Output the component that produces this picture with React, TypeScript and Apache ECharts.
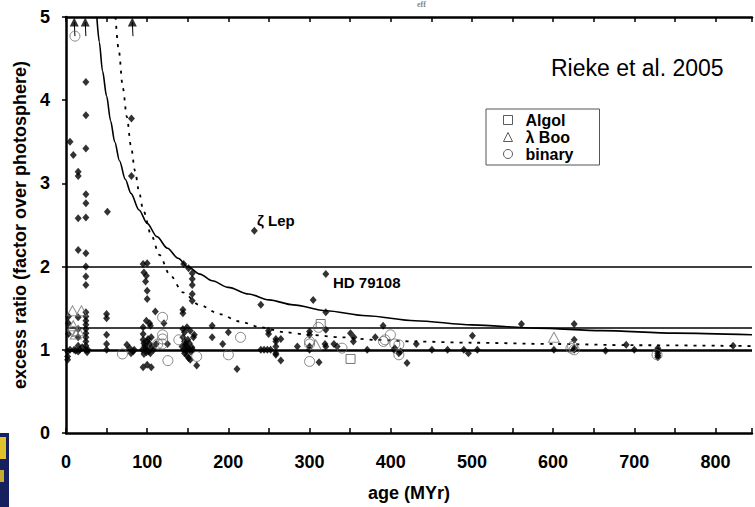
import React, { useEffect, useRef } from "react";
import * as echarts from "echarts";

// ---- data ----
const xTickStep = 50;
const xMax = 845;
const yMax = 5;
const refLevels = [1, 1.27, 2];

const diamonds: [number, number][] = [
  [5, 3.5], [9, 3.34], [15, 3.14], [15, 3.09], [24.5, 4.22], [24.5, 3.82], [24.5, 3.42], [24.5, 2.87],
  [24.5, 2.76], [15, 2.58], [24.5, 2.59], [51, 2.66], [80.6, 3.78], [80.6, 3.09], [232, 2.43],
  [15, 2.2], [24.5, 2.16], [24.5, 2.0], [24.5, 1.88], [24.5, 1.78],
  [24.5, 1.45], [24.5, 1.4], [24.5, 1.35], [24.5, 1.3], [24.5, 1.25], [24.5, 1.2], [24.5, 1.15],
  [24.5, 1.1], [24.5, 1.05], [24.5, 1.0], [26, 0.97],
  [15, 1.39], [15, 1.25], [15, 1.15], [15, 1.05], [15, 0.98], [17, 1.0], [20, 1.03], [12, 0.99], [10, 1.0], [27, 1.0],
  [3, 1.4], [3, 1.32], [3, 1.19], [2, 0.98], [2, 0.92], [2, 0.88], [5, 1.0],
  [50, 1.43], [50, 1.38], [50, 1.18], [50, 1.07], [50, 1.0],
  [75, 1.06], [78.5, 1.02], [80, 0.96], [82.6, 0.98], [84, 1.0],
  [95, 2.03], [100, 2.04], [96, 1.93], [99, 1.89], [98, 1.82], [100, 1.71], [100, 1.61], [99, 1.35],
  [103, 1.32], [104, 1.29], [95, 1.27], [95, 1.19], [95, 1.12], [96, 1.08], [97, 1.05], [98, 1.02],
  [100, 1.0], [102, 0.98], [104, 0.96], [96, 0.95], [100, 1.1], [103, 1.07], [106, 1.03], [94, 1.0],
  [99, 0.97], [101, 1.13], [105, 1.15], [95, 0.79], [100, 0.82], [105, 0.79], [108, 1.0], [110, 1.46],
  [111, 1.07], [120.6, 1.32], [125, 1.07],
  [144, 1.48], [144, 1.44], [144, 1.25], [149, 1.27], [145, 2.03], [151, 1.98], [155.5, 1.92],
  [155.5, 1.85], [155.5, 1.78], [155.5, 1.67], [155.5, 1.59], [146, 1.21], [153, 1.23], [144, 1.15],
  [146, 1.1], [148, 1.05], [150, 1.02], [152, 1.0], [154, 0.98], [146, 0.96], [149, 0.93], [151, 0.9],
  [153, 0.88], [145, 1.0], [147, 1.07], [150, 1.12], [152, 1.08], [155, 1.03], [143, 1.04], [148, 0.99],
  [156, 1.0], [161, 0.81], [158, 1.18], [157, 1.15],
  [180, 1.29], [180, 1.15], [193, 1.07], [200, 1.21], [210.6, 0.77], [240, 1.54],
  [240, 1.0], [244, 1.0], [248, 1.0], [252, 1.0], [249.5, 1.23], [249.5, 1.19], [258.5, 1.13],
  [258.5, 1.1], [258.5, 1.04], [258.5, 0.96], [258.5, 0.94], [264.6, 0.87], [264.6, 1.13], [285, 1.04],
  [300, 1.22], [300, 1.18], [300, 1.04], [300, 1.0], [304.5, 1.6], [311.7, 0.85], [320, 1.91],
  [320, 1.45], [320, 1.24], [320, 1.04], [319, 1.07], [330, 1.07], [334, 1.04], [350.5, 1.2],
  [354.6, 1.15], [354, 1.1], [371, 1.0], [381, 1.15], [390.6, 1.29], [404, 1.0], [405, 1.02],
  [410, 0.96], [412, 0.98], [420, 0.84], [431.5, 1.07], [450.7, 1.0], [470, 1.0], [490, 1.0],
  [495.7, 0.96], [500.6, 1.17], [506.7, 1.0], [561, 1.31], [601, 1.0], [626, 1.31], [626, 1.12],
  [626, 1.02], [626, 1.0], [664.6, 0.99], [690, 1.06], [700, 1.0], [729, 1.02], [729, 0.99],
  [729, 0.96], [729, 0.93], [729, 0.91], [821.7, 1.05],
];

const binary: [number, number][] = [
  [11, 4.77], [9, 1.22], [69.5, 0.95], [119, 1.39], [119, 1.18], [119, 1.13], [113, 1.07], [118.6, 1.07],
  [125.5, 0.87], [139, 1.12], [161, 0.92], [200, 0.94], [215, 1.15], [300, 1.1], [300, 0.86],
  [300, 1.07], [311, 1.27], [340, 1.02], [391, 1.1], [393, 1.12], [399.6, 1.18], [405, 1.07],
  [410, 1.06], [410, 0.94], [622, 1.02], [624, 1.04], [626, 1.0], [728, 0.94],
];

const algol: [number, number][] = [[313.7, 1.31], [350.5, 0.89]];

const lambdaBoo: [number, number][] = [
  [8, 1.47], [19, 1.47], [9, 1.29], [15, 1.23], [12, 1.19], [307.6, 1.06], [601, 1.15],
];

const upperLimitAges = [11, 24.5, 82.5];
const upperLimitBase = 4.77;
const upperLimitTip = 4.94;

const solidCurve: [number, number][] = [
  [38, 5.0], [41, 4.7], [45, 4.35], [50, 4.05], [55, 3.75], [60, 3.5], [66, 3.27], [73, 3.05],
  [80, 2.88], [90, 2.68], [100, 2.52], [112, 2.36], [125, 2.22], [138, 2.1], [150, 2.0],
  [165, 1.91], [180, 1.83], [200, 1.75], [225, 1.67], [250, 1.6], [280, 1.54], [320, 1.47],
  [370, 1.41], [430, 1.35], [500, 1.3], [580, 1.26], [660, 1.23], [750, 1.2], [845, 1.18],
];

const dottedCurve: [number, number][] = [
  [61, 5.0], [65, 4.6], [70, 4.15], [75, 3.8], [80, 3.45], [85, 3.15], [90, 2.9], [95, 2.68],
  [105, 2.38], [115, 2.14], [128, 1.9], [144, 1.69], [164, 1.54], [189, 1.43],
  [214, 1.34], [240, 1.27], [270, 1.21], [300, 1.18], [340, 1.15], [380, 1.12],
  [430, 1.1], [500, 1.085], [600, 1.07], [700, 1.055], [845, 1.045],
];

const FONT = "'Liberation Sans', Arial, sans-serif";

export default function App() {
  const ref = useRef<HTMLDivElement>(null);
  useEffect(() => {
    if (!ref.current) return;
    const chart = echarts.init(ref.current, null, { renderer: "svg" });
    const stems = upperLimitAges.map((a) => ({
      type: "line",
      data: [[a, upperLimitBase], [a - 0.8, upperLimitTip]],
      showSymbol: false,
      symbol: "none",
      lineStyle: { color: "#000", width: 1 },
      silent: true,
      clip: false,
      z: 3,
    }));
    const openStyle = (c: string) => ({ color: "rgba(0,0,0,0)", borderColor: c, borderWidth: 1 });
    chart.setOption({
      animation: false,
      backgroundColor: "#fff",
      grid: { left: 66, right: 0, top: 17, bottom: 70, containLabel: false },
      legend: {
        orient: "vertical",
        left: 486,
        top: 109,
        data: ["Algol", "λ Boo", "binary"],
        borderColor: "#555",
        borderWidth: 1,
        padding: [3, 26, 3, 17],
        itemGap: 1,
        itemWidth: 9,
        itemHeight: 9,
        itemStyle: { color: "rgba(0,0,0,0)", borderColor: "#333", borderWidth: 1 },
        textStyle: { fontFamily: FONT, fontWeight: "bold", fontSize: 16, color: "#000", padding: [0, 0, 0, 8] },
      },
      xAxis: [
        {
          type: "value",
          position: "bottom",
          min: 0,
          max: xMax,
          interval: xTickStep,
          axisLine: { show: true, lineStyle: { color: "#000", width: 2.5 } },
          axisTick: { show: true, inside: true, length: 5, lineStyle: { color: "#000", width: 1.5 } },
          axisLabel: {
            formatter: (v: number) => (v % 100 === 0 ? String(v) : ""),
            margin: 20,
            color: "#000",
            fontFamily: FONT,
            fontWeight: "bold",
            fontSize: 18,
          },
          splitLine: { show: false },
          name: "age (MYr)",
          nameLocation: "middle",
          nameGap: 51,
          nameTextStyle: { color: "#000", fontFamily: FONT, fontWeight: "bold", fontSize: 18 },
        },
        {
          type: "value",
          position: "top",
          min: 0,
          max: xMax,
          interval: xTickStep,
          axisLine: { show: true, lineStyle: { color: "#000", width: 2.5 } },
          axisTick: { show: true, inside: true, length: 5, lineStyle: { color: "#000", width: 1.5 } },
          axisLabel: { show: false },
          splitLine: { show: false },
        },
      ],
      yAxis: {
        type: "value",
        min: 0,
        max: yMax,
        interval: 1,
        axisLine: { show: true, lineStyle: { color: "#000", width: 2.5 } },
        axisTick: { show: true, inside: false, length: 4, lineStyle: { color: "#000", width: 1.5 } },
        axisLabel: { margin: 16, color: "#000", fontFamily: FONT, fontWeight: "bold", fontSize: 18 },
        splitLine: { show: false },
        name: "excess ratio (factor over photosphere)",
        nameLocation: "middle",
        nameGap: 33,
        nameTextStyle: { color: "#000", fontFamily: FONT, fontWeight: "bold", fontSize: 18 },
      },
      series: [
        {
          type: "line",
          data: solidCurve,
          smooth: 0.3,
          smoothMonotone: "x",
          showSymbol: false,
          symbol: "none",
          lineStyle: { color: "#000", width: 1.6 },
          silent: true,
          z: 2,
          markLine: {
            silent: true,
            symbol: ["none", "none"],
            label: { show: false },
            data: refLevels.map((v) => ({
              yAxis: v,
              lineStyle: { color: "#000", type: "solid", width: v === 1 ? 2.6 : 1.6 },
            })),
          },
        },
        {
          type: "line",
          data: dottedCurve,
          smooth: 0.3,
          smoothMonotone: "x",
          showSymbol: false,
          symbol: "none",
          lineStyle: { color: "#000", width: 1.8, type: [3, 6] },
          silent: true,
          z: 2,
        },
        ...stems,
        {
          type: "scatter",
          data: upperLimitAges.map((a) => [a - 0.8, upperLimitTip]),
          symbol: "triangle",
          symbolSize: [9, 9],
          itemStyle: { color: "#000" },
          clip: false,
          silent: true,
          z: 4,
        },
        {
          type: "scatter",
          data: diamonds,
          symbol: "diamond",
          symbolSize: [7, 8],
          itemStyle: { color: "#000" },
          silent: true,
          z: 5,
        },
        {
          name: "binary",
          type: "scatter",
          data: binary,
          symbol: "circle",
          symbolSize: 10,
          itemStyle: openStyle("#6a6a6a"),
          silent: true,
          z: 6,
        },
        {
          name: "Algol",
          type: "scatter",
          data: algol,
          symbol: "rect",
          symbolSize: 9,
          itemStyle: openStyle("#555"),
          silent: true,
          z: 6,
        },
        {
          name: "λ Boo",
          type: "scatter",
          data: lambdaBoo,
          symbol: "triangle",
          symbolSize: [11, 10],
          itemStyle: openStyle("#777"),
          silent: true,
          z: 6,
        },
      ],
      graphic: [
        {
          type: "text",
          left: 551,
          top: 56,
          style: { text: "Rieke et al. 2005", font: `normal 23px ${FONT}`, fill: "#000" },
        },
        {
          type: "text",
          left: 257,
          top: 213,
          style: { text: "ζ Lep", font: `bold 15px ${FONT}`, fill: "#000" },
        },
        {
          type: "text",
          left: 333,
          top: 275,
          style: { text: "HD 79108", font: `bold 15px ${FONT}`, fill: "#000" },
        },
        {
          type: "text",
          left: 417,
          top: 0,
          style: { text: "eff", font: `bold 8px 'Liberation Serif', serif`, fill: "#888" },
        },
        { type: "rect", shape: { x: 0, y: 433, width: 9, height: 74 }, style: { fill: "#17205e" } },
        { type: "rect", shape: { x: 0, y: 437, width: 6, height: 22 }, style: { fill: "#e2c22a" } },
        { type: "rect", shape: { x: 0, y: 470, width: 4, height: 12 }, style: { fill: "#c8a830" } },
      ],
    });
    return () => chart.dispose();
  }, []);
  return (
    <div
      ref={ref}
      style={{ position: "fixed", left: 0, top: 0, width: 755, height: 507, background: "#fff" }}
    />
  );
}
